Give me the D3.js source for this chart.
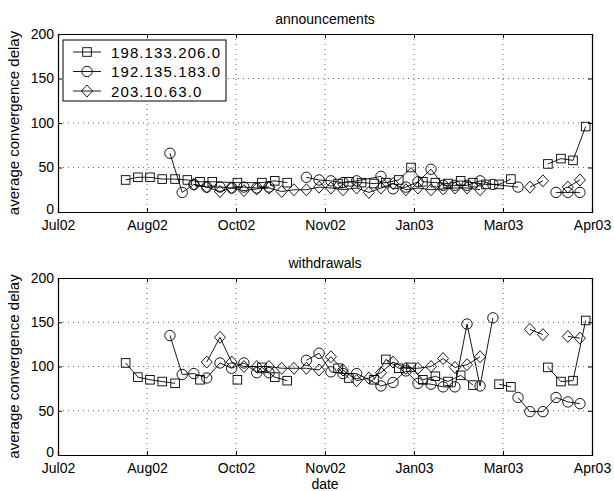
<!DOCTYPE html>
<html>
<head>
<meta charset="utf-8">
<script src="https://cdn.jsdelivr.net/npm/d3@7"></script>
<style>
  body { margin: 0; background: #fff; }
  svg { font-family: "Liberation Sans", Arial, sans-serif; }
</style>
</head>
<body>
<svg id="chart" width="614" height="491"></svg>
<script>
// x values are days after 1 Jul 2002, null = gap in the line
var tickDays = [0, 45, 90, 135, 180, 225, 270];
var tickLabels = ["Jul02", "Aug02", "Oct02", "Nov02", "Jan03", "Mar03", "Apr03"];
var yTicks = [0, 50, 100, 150, 200];
var names = ["198.133.206.0", "192.135.183.0", "203.10.63.0"];

var annSquare = [[34.2,36],[40.4,39],[46.5,39],[52.7,37],[59.2,37],[65.4,36],[71.8,34],[78,34],[90.7,33],[103.1,33],[109.6,35],[115.9,33],null,
  [141.6,32],[147.1,34],[153.5,33],[159.8,32],[165.8,33],[172.3,36],[178.5,50],[184.5,34],[190.8,33],[197.2,32],[203.6,35],[209.8,33],[216.4,31],[223,31],[229,37],null,
  [247.7,54],[254.3,60],[260.4,58],[266.8,96]];
var annCircle = [[56.6,66],[62.8,22],[68.7,31],[75.2,28],[81.9,28],[87.8,27],[94,28],[100.5,27],[106.7,28],null,
  [125.6,39],[132,36],[138,35],[144.1,33],[151,35],[163.3,40],[169.4,26],[175.9,28],[182,34],[188.6,48],[194.7,30],[200.7,30],[206.8,30],[213.4,35],[219.9,31],[232.6,28],null,
  [251.8,22],[257.8,22],[263.9,22]];
var annDiamond = [[68.7,31],[75.2,28],[81.9,23],[87.8,27],[94,24],[100.5,26],[106.7,27],[113.1,23],[119.3,25],[125.6,25],[132,28],[138,27],[144.1,25],[151,27],[157.2,22],
  [163.3,27],[169.4,32],[175.9,25],[182,27],[188.6,25],[194.7,26],[200.7,27],[206.8,27],[213.4,25],null,
  [238.6,28],[245.2,35],null,[257.8,28],[263.9,36]];

var wdrSquare = [[34.2,104],[40.4,88],[46.5,85],[52.7,83],[59.2,81],null,[71.8,85],null,[90.7,85],null,[103.1,99],[109.6,88],[115.9,84],null,
  [141.6,98],[147.1,87],null,[159.8,85],[165.8,108],[172.3,98],[178.5,99],[184.5,85],[190.8,89],[197.2,83],[203.6,90],[209.8,79],null,
  [223,80],[229,77],null,[247.7,99],[254.3,83],[260.4,84],[266.8,152]];
var wdrCircle = [[56.6,135],[62.8,91],[68.7,92],[75.2,87],[81.9,104],[87.8,98],[94,104],[100.5,93],[106.7,93],null,
  [125.6,107],[132,115],[138,94],[144.1,92],[151,92],[163.3,78],[169.4,82],[175.9,95],[182,81],[188.6,80],[194.7,77],[200.7,77],[206.8,148],[213.4,78],[219.9,155],null,
  [232.6,65],[238.6,49],[245.2,49],[251.8,65],[257.8,60],[263.9,58]];
var wdrDiamond = [[75.2,105],[81.9,133],[87.8,105],[94,100],[100.5,100],[106.7,100],[113.1,98],[119.3,98],[125.6,98],[132,96],[138,111],[144.1,96],[151,84],[157.2,87],
  [163.3,93],[169.4,105],[175.9,98],[182,98],[188.6,100],[194.7,109],[200.7,99],[206.8,102],[213.4,111],null,
  [238.6,142],[245.2,136],null,[257.8,134],[263.9,132]];

var svg = d3.select("#chart");
var x = d3.scaleLinear().domain([0, 270]).range([58, 592]);

var shapes = [
  function(g) { g.append("rect").attr("x", -4.3).attr("y", -4.3).attr("width", 8.6).attr("height", 8.6); },
  function(g) { g.append("circle").attr("r", 5.2); },
  function(g) { g.append("path").attr("d", "M0,-6L5.5,0L0,6L-5.5,0Z"); }
];

function panel(top, bottom, title, seriesList) {
  var y = d3.scaleLinear().domain([0, 200]).range([bottom, top]);
  var g = svg.append("g");

  // dotted grid
  g.selectAll(".gx").data(tickDays.slice(1, -1)).enter().append("line")
    .attr("x1", function(d) { return x(d); }).attr("x2", function(d) { return x(d); })
    .attr("y1", top).attr("y2", bottom)
    .attr("stroke", "#000").attr("stroke-width", 0.6).attr("stroke-dasharray", "1,4");
  g.selectAll(".gy").data(yTicks.slice(1, -1)).enter().append("line")
    .attr("x1", 58).attr("x2", 592)
    .attr("y1", function(d) { return y(d); }).attr("y2", function(d) { return y(d); })
    .attr("stroke", "#000").attr("stroke-width", 0.6).attr("stroke-dasharray", "1,4");

  // axes with inward ticks
  g.append("g").attr("transform", "translate(0," + bottom + ")")
    .call(d3.axisBottom(x).tickValues(tickDays).tickSize(-4).tickPadding(8)
      .tickFormat(function(d, i) { return tickLabels[i]; }));
  g.append("g").attr("transform", "translate(0," + top + ")")
    .call(d3.axisTop(x).tickValues(tickDays).tickSize(-4).tickFormat(""));
  g.append("g").attr("transform", "translate(58,0)")
    .call(d3.axisLeft(y).tickValues(yTicks).tickSize(-4).tickPadding(4));
  g.append("g").attr("transform", "translate(592,0)")
    .call(d3.axisRight(y).tickValues(yTicks).tickSize(-4).tickFormat(""));
  g.selectAll(".domain").attr("stroke", "#000").attr("stroke-width", 1.2);
  g.selectAll(".tick line").attr("stroke", "#000");
  g.selectAll(".tick text").attr("font-size", 14).attr("fill", "#000")
    .attr("font-family", "Liberation Sans, Arial, sans-serif");
  // lift the lowest y label a little so it clears the first date label
  g.selectAll(".tick text").filter(function(d) { return d === 0 && this.getAttribute("x") < 0; })
    .attr("dy", "0.1em");

  g.append("text").attr("x", 325).attr("y", top - 10).attr("text-anchor", "middle")
    .attr("font-size", 14).text(title);
  g.append("text").attr("transform", "translate(19," + ((top + bottom) / 2) + ") rotate(-90)")
    .attr("text-anchor", "middle").attr("font-size", 15).text("average convergence delay");

  var line = d3.line().defined(function(d) { return d; })
    .x(function(d) { return x(d[0]); }).y(function(d) { return y(d[1]); });

  seriesList.forEach(function(data, k) {
    g.append("path").datum(data).attr("d", line)
      .attr("fill", "none").attr("stroke", "#000").attr("stroke-width", 0.9);
    g.selectAll(".m" + k).data(data.filter(function(d) { return d; })).enter().append("g")
      .attr("transform", function(d) { return "translate(" + x(d[0]) + "," + y(d[1]) + ")"; })
      .each(function() { shapes[k](d3.select(this)); })
      .attr("fill", "none").attr("stroke", "#000").attr("stroke-width", 0.9);
  });
}

panel(34, 212, "announcements", [annSquare, annCircle, annDiamond]);
panel(278, 455, "withdrawals", [wdrSquare, wdrCircle, wdrDiamond]);

svg.append("text").attr("x", 325).attr("y", 489).attr("text-anchor", "middle")
  .attr("font-size", 14).text("date");

// legend
var lg = svg.append("g");
lg.append("rect").attr("x", 63).attr("y", 40).attr("width", 163).attr("height", 61)
  .attr("fill", "#fff").attr("stroke", "#000").attr("stroke-width", 1);
names.forEach(function(n, k) {
  var ly = 52 + k * 19.5;
  lg.append("line").attr("x1", 73).attr("x2", 101).attr("y1", ly).attr("y2", ly)
    .attr("stroke", "#000").attr("stroke-width", 0.9);
  var m = lg.append("g").attr("transform", "translate(87," + ly + ")")
    .attr("fill", "none").attr("stroke", "#000").attr("stroke-width", 0.9);
  shapes[k](m);
  lg.append("text").attr("x", 111).attr("y", ly + 5.5).attr("font-size", 15)
    .attr("letter-spacing", 1.1).text(n);
});
</script>
</body>
</html>
